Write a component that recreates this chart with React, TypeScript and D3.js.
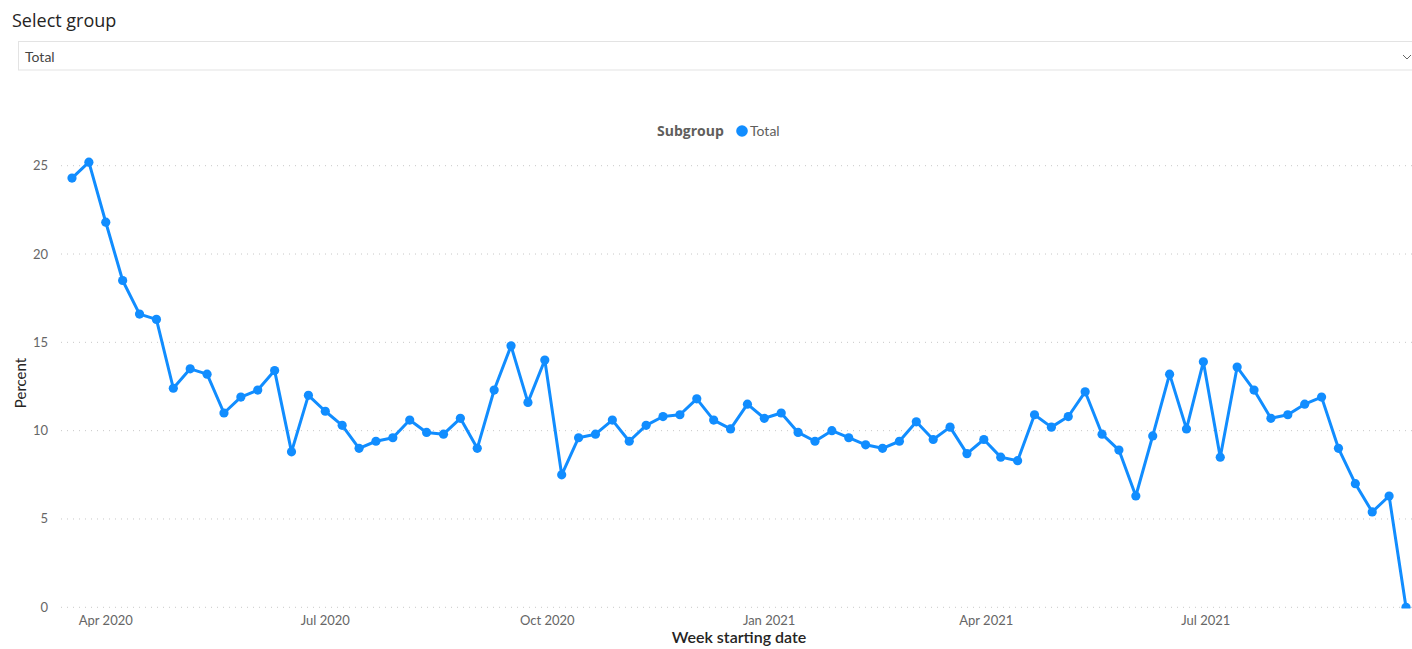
import React from 'react';
import * as d3 from 'd3';

// ---- data ----
const firstWeek = '2020-03-18';
const weekCount = 80;
const percentValues: number[] = [
  24.3, 25.2, 21.8, 18.5, 16.6, 16.3, 12.4, 13.5, 13.2, 11.0,
  11.9, 12.3, 13.4, 8.8, 12.0, 11.1, 10.3, 9.0, 9.4, 9.6,
  10.6, 9.9, 9.8, 10.7, 9.0, 12.3, 14.8, 11.6, 14.0, 7.5,
  9.6, 9.8, 10.6, 9.4, 10.3, 10.8, 10.9, 11.8, 10.6, 10.1,
  11.5, 10.7, 11.0, 9.9, 9.4, 10.0, 9.6, 9.2, 9.0, 9.4,
  10.5, 9.5, 10.2, 8.7, 9.5, 8.5, 8.3, 10.9, 10.2, 10.8,
  12.2, 9.8, 8.9, 6.3, 9.7, 13.2, 10.1, 13.9, 8.5, 13.6,
  12.3, 10.7, 10.9, 11.5, 11.9, 9.0, 7.0, 5.4, 6.3, 0.0,
];
const yTicks = [0, 5, 10, 15, 20, 25];
const xTickDates = ['2020-04-01', '2020-07-01', '2020-10-01', '2021-01-01', '2021-04-01', '2021-07-01'];
const xTickLabels = ['Apr 2020', 'Jul 2020', 'Oct 2020', 'Jan 2021', 'Apr 2021', 'Jul 2021'];
const slicerTitle = 'Select group';
const slicerValue = 'Total';
const legendTitle = 'Subgroup';
const seriesName = 'Total';
const xAxisTitle = 'Week starting date';
const yAxisTitle = 'Percent';

const W = 1412;
const H = 649;
const BLUE = '#118DFF';
const FONT = "'Segoe UI', Lato, 'Open Sans', sans-serif";

export default function App() {
  const start = new Date(firstWeek + 'T00:00:00Z');
  const dates = d3.range(weekCount).map((i) => d3.utcDay.offset(start, 7 * i));
  const data = dates.map((d, i) => ({ date: d, value: percentValues[i] }));

  const x = d3.scaleUtc().domain([dates[0], dates[dates.length - 1]]).range([72, 1406]);
  const y = d3.scaleLinear().domain([0, 25]).range([607.3, 165.7]);

  const line = d3
    .line<{ date: Date; value: number }>()
    .x((d) => x(d.date))
    .y((d) => y(d.value));

  return (
    <svg
      width={W}
      height={H}
      style={{ position: 'absolute', left: 0, top: 0, display: 'block', background: '#fff' }}
      fontFamily={FONT}
    >
      <defs>
        <clipPath id="plotClip">
          <rect x={0} y={140} width={W} height={608.5 - 140} />
        </clipPath>
      </defs>

      {/* slicer */}
      <text x={12} y={27} fontSize={18} fill="#252423" fontFamily="'Open Sans', sans-serif">
        {slicerTitle}
      </text>
      <rect x={18.5} y={41.5} width={W} height={28.5} fill="#fff" stroke="#e3e3e3" strokeWidth={1} />
      <text x={25} y={62} fontSize={14} fill="#444">
        {slicerValue}
      </text>
      <path d="M1403,55 L1407,59 L1411,55" fill="none" stroke="#666" strokeWidth={1} />

      {/* legend */}
      <text x={657} y={136} fontSize={14} fontWeight="bold" fill="#605e5c" fontFamily="'Open Sans', sans-serif">
        {legendTitle}
      </text>
      <circle cx={742} cy={131} r={5.8} fill={BLUE} />
      <text x={750} y={136} fontSize={14} fill="#605e5c">
        {seriesName}
      </text>

      {/* gridlines + y ticks */}
      {yTicks.map((t) => (
        <g key={t}>
          <line
            x1={61}
            x2={W}
            y1={y(t)}
            y2={y(t)}
            stroke="#c8c8c8"
            strokeWidth={1}
            strokeDasharray="1,5"
          />
          <text x={48} y={y(t) + 4.5} fontSize={13} fill="#666" textAnchor="end">
            {t}
          </text>
        </g>
      ))}

      {/* x ticks */}
      {xTickDates.map((d, i) => (
        <text
          key={d}
          x={x(new Date(d + 'T00:00:00Z'))}
          y={625}
          fontSize={13}
          fill="#666"
          textAnchor="middle"
        >
          {xTickLabels[i]}
        </text>
      ))}

      {/* axis titles */}
      <text
        transform={`translate(26,383) rotate(-90)`}
        fontSize={15}
        fill="#252423"
        textAnchor="middle"
      >
        {yAxisTitle}
      </text>
      <text x={739} y={643} fontSize={16} fontWeight={600} fill="#252423" textAnchor="middle">
        {xAxisTitle}
      </text>

      {/* series */}
      <g clipPath="url(#plotClip)">
        <path d={line(data) || ''} fill="none" stroke={BLUE} strokeWidth={3} strokeLinejoin="round" />
        {data.map((d, i) => (
          <circle key={i} cx={x(d.date)} cy={y(d.value)} r={4.6} fill={BLUE} />
        ))}
      </g>
    </svg>
  );
}
